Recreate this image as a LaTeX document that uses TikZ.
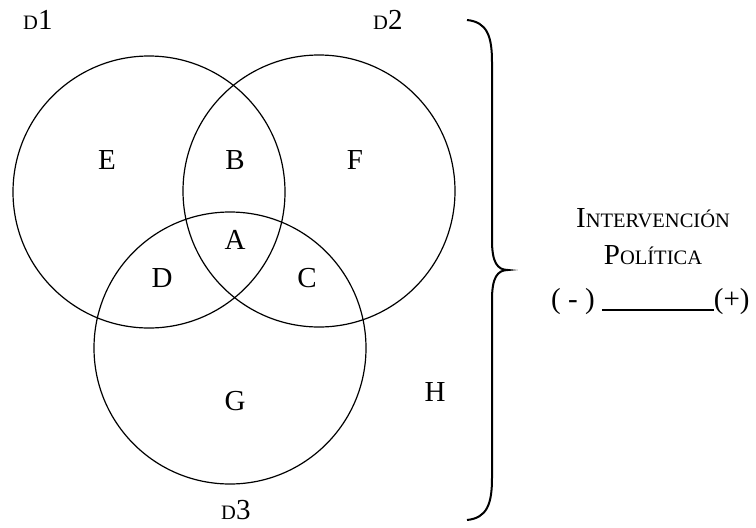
\documentclass[tikz,border=0pt]{standalone}
\usepackage{fontspec}
\setmainfont{Liberation Serif}
\newcommand{\versal}[1]{{\fontsize{20.5}{22}\selectfont #1}}
\begin{document}
\begin{tikzpicture}[x=1pt, y=-1pt, every node/.style={font=\fontsize{29}{31}\selectfont, inner sep=0pt},
    conjunto/.style={line width=1.2pt},
    zona/.style={anchor=center}]
    \useasboundingbox (0,0) rectangle (756,528);

    % los tres conjuntos
    \coordinate (c1) at (149,192);
    \coordinate (c2) at (319,191);
    \coordinate (c3) at (230,348);
    \foreach \c in {c1, c2, c3} { \draw[conjunto] (\c) circle (136pt); }

    \node[anchor=base west] (d1) at (23,29) {\versal{D}1};
    \node[anchor=base west] (d2) at (373,29) {\versal{D}2};
    \node[anchor=base west] (d3) at (221,519) {\versal{D}3};

    % regiones
    \node[zona] (E) at (107,160) {E};
    \node[zona] (B) at (235,160) {B};
    \node[zona] (F) at (355,160) {F};
    \node[zona] (A) at (235,240) {A};
    \node[zona] (D) at (162,278) {D};
    \node[zona] (C) at (307,278) {C};
    \node[zona] (G) at (235,401) {G};
    \node[zona] (H) at (435,392) {H};

    % llave
    \coordinate (llave) at (508,270);
    \draw[line width=2pt] (467,20) .. controls (487,22) and (492,36) .. (492,62) -- (492,240)
        .. controls (492,262) and (497,270) .. (llave)
        .. controls (497,270) and (492,278) .. (492,300) -- (492,478)
        .. controls (492,504) and (487,518) .. (467,520);

    \node[anchor=base] (inter) at (653,227) {I\versal{NTERVENCIÓN}};
    \node[anchor=base] (poli) at (653,264) {P\versal{OLÍTICA}};
    \node[anchor=base west] (escala) at (551,308) {( - ) \rule[-2.5pt]{112pt}{1.3pt}(+)};
\end{tikzpicture}
\end{document}
